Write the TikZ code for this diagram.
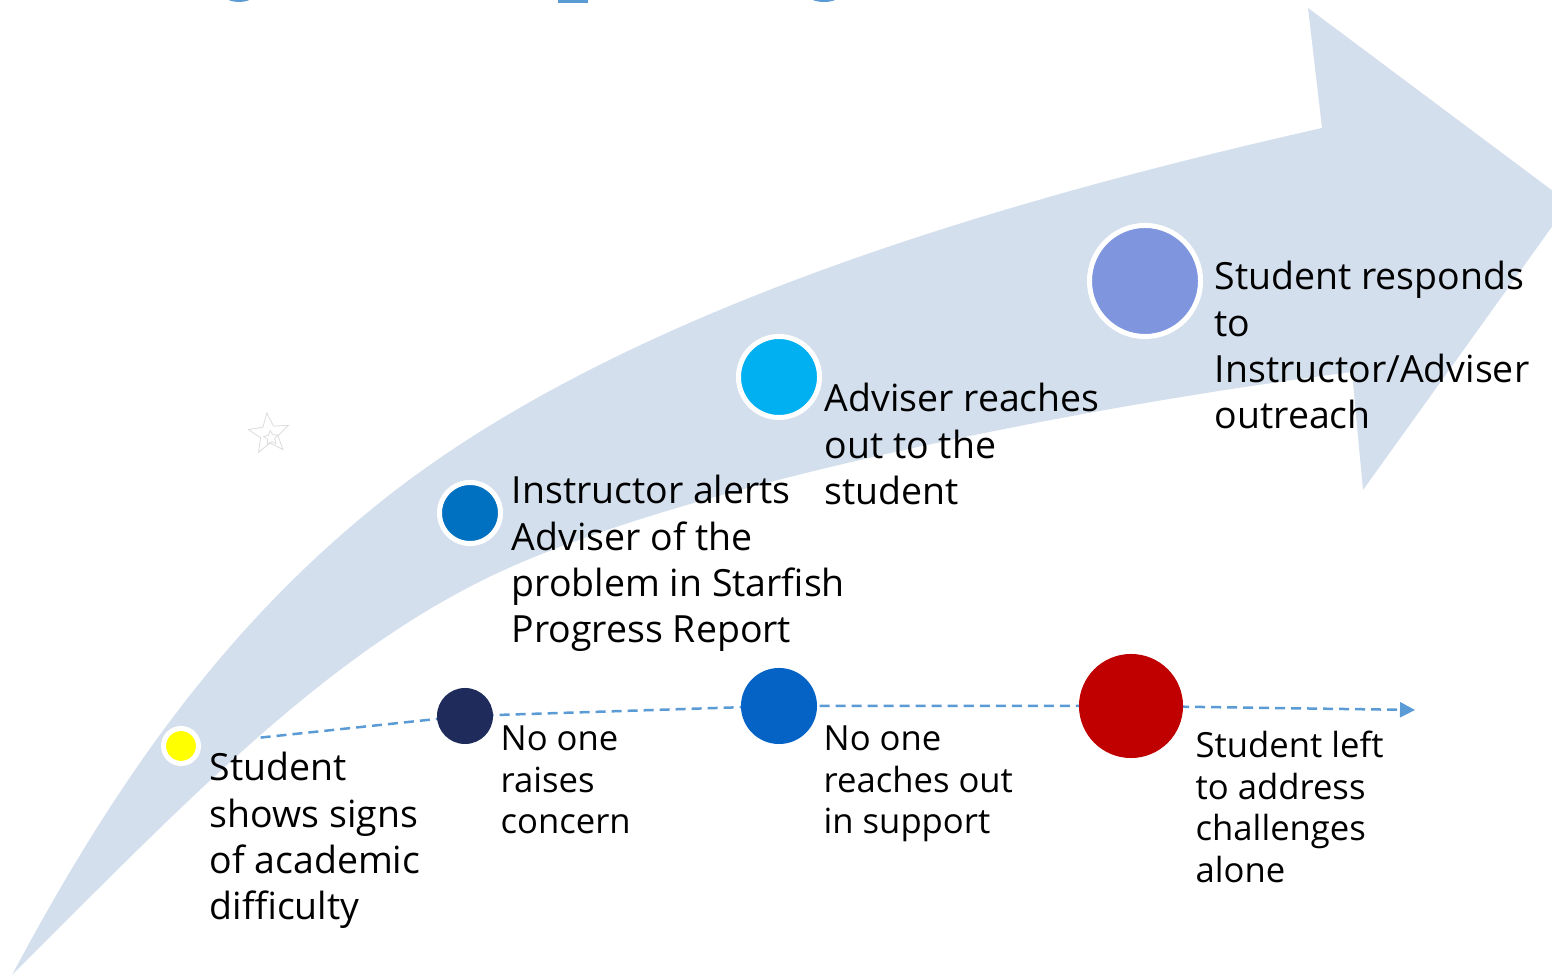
\documentclass[tikz,border=0pt]{standalone}
\usepackage{fontspec}
\setmainfont{Open Sans}
\usetikzlibrary{arrows.meta,shapes.geometric}
\pgfdeclarelayer{lineslayer}
\pgfdeclarelayer{bandlayer}
\pgfsetlayers{lineslayer,bandlayer,main}
\definecolor{bandcol}{RGB}{212,223,238}
\definecolor{dashcol}{RGB}{91,155,213}
\definecolor{ylw}{RGB}{255,255,0}
\definecolor{instr}{RGB}{0,112,192}
\definecolor{cyanc}{RGB}{0,176,240}
\definecolor{lav}{RGB}{127,150,223}
\definecolor{navy}{RGB}{31,43,91}
\definecolor{bluec}{RGB}{5,99,198}
\definecolor{redc}{RGB}{192,0,0}
\definecolor{topblue}{RGB}{91,155,213}
\tikzset{
  ringdot/.style={circle, draw=white, line width=0.05cm, inner sep=0pt},
  flatdot/.style={circle, inner sep=0pt},
  bigtext/.style={anchor=base west, inner sep=0pt, font=\fontsize{10.65pt}{13.1pt}\selectfont},
  smalltext/.style={anchor=base west, inner sep=0pt, font=\fontsize{9.85pt}{11.8pt}\selectfont},
  dashline/.style={draw=dashcol, line width=0.025cm, dash pattern=on 0.1cm off 0.06cm},
  fishstar/.style={star, star points=5, draw=black!13, line width=0.25pt, inner sep=0pt},
}
\newcommand{\lns}[1]{\begin{tabular}[t]{@{}l@{}}#1\end{tabular}}
\begin{document}
\begin{tikzpicture}[x=0.01cm,y=-0.01cm]
\useasboundingbox (0,0) rectangle (1552,977);
\clip (0,0) rectangle (1552,977);

% top cut-off fragments
\fill[topblue] (239,-3) ellipse [x radius=13, y radius=5];
\fill[topblue] (558,-3) rectangle (588,3);
\fill[topblue] (824,-3) ellipse [x radius=14, y radius=5];

% circles (upper path)
\node[ringdot, fill=ylw, minimum size=0.35cm] (ys) at (181,746) {};
\node[ringdot, fill=instr, minimum size=0.61cm] (ia) at (470,513) {};
\node[ringdot, fill=cyanc, minimum size=0.81cm] (ar) at (779,377) {};
\node[ringdot, fill=lav, minimum size=1.11cm] (sr) at (1145,281) {};
% circles (lower path)
\node[flatdot, fill=navy, minimum size=0.56cm] (nr) at (465,716) {};
\node[flatdot, fill=bluec, minimum size=0.76cm] (ns) at (779,706) {};
\node[flatdot, fill=redc, minimum size=1.04cm] (sl) at (1131,706) {};
\coordinate (endpt) at (1415,710);

% dashed line
\begin{pgfonlayer}{lineslayer}
\draw[dashline] (ys.center) -- (nr.center) -- (ns.center) -- (sl.center);
\draw[dashline, -{Triangle[length=0.15cm,width=0.15cm]}] (sl.center) -- (endpt);
\end{pgfonlayer}

% big curved arrow band
\begin{pgfonlayer}{bandlayer}
\fill[bandcol] (12,975) .. controls (117,778) and (227,624) .. (383,500)
  .. controls (617,314) and (990,203) .. (1322,128)
  -- (1308,8) -- (1569,203) -- (1363,490) -- (1352,372)
  .. controls (1056,410) and (662,491) .. (483,580)
  .. controls (322,660) and (189,798) .. (12,975) -- cycle;
\node[fishstar, star point ratio=2.3, minimum size=0.42cm, rotate=6] (fish) at (269,434) {};
\node[fishstar, star point ratio=2, minimum size=0.15cm, rotate=6] (fishin) at (271,438) {};
\end{pgfonlayer}

% texts
\node[bigtext] (t1) at (209,781) {\lns{Student\\shows signs\\of academic\\difficulty}};
\node[bigtext] (t2) at (511,504) {\lns{Instructor alerts\\Adviser of the\\problem in Starfish\\Progress Report}};
\node[bigtext] (t3) at (824,412) {\lns{Adviser reaches\\out to the\\student}};
\node[bigtext] (t4) at (1214,290) {\lns{Student responds\\to\\Instructor/Adviser\\outreach}};
\node[smalltext] (t5) at (500,751) {\lns{No one\\raises\\concern}};
\node[smalltext] (t6) at (823,751) {\lns{No one\\reaches out\\in support}};
\node[smalltext] (t7) at (1195,758) {\lns{Student left\\to address\\challenges\\alone}};
\end{tikzpicture}
\end{document}
